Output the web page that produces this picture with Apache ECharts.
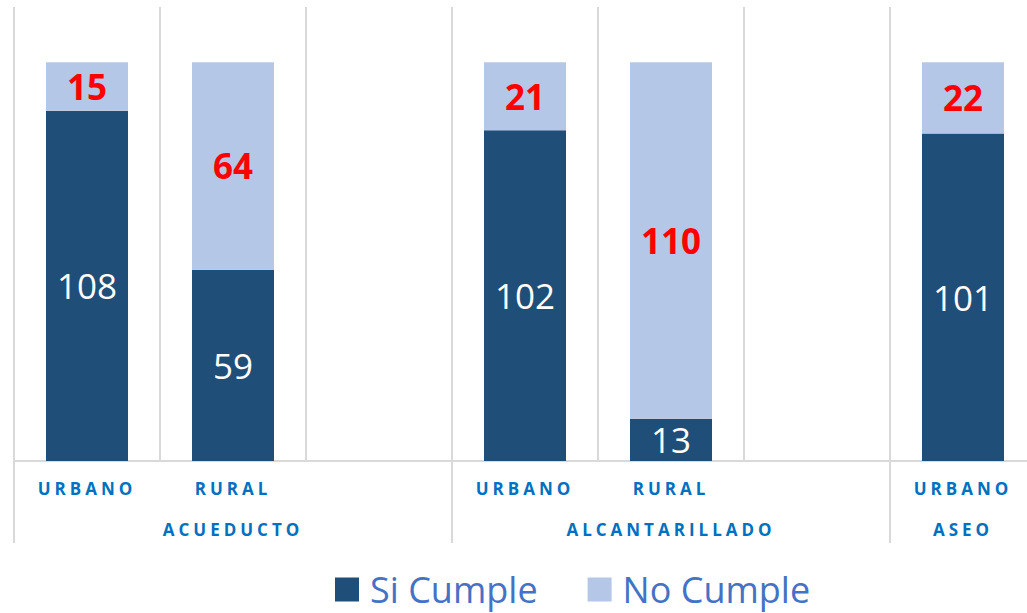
<!DOCTYPE html>
<html>
<head>
<meta charset="utf-8">
<script src="https://cdn.jsdelivr.net/npm/echarts@6/dist/echarts.min.js"></script>
<style>
  html, body { margin: 0; padding: 0; background: #ffffff; }
  #chart { width: 1027px; height: 613px; }
  #chart text[fill="#0070c0"], #chart text[fill="#0070C0"], #chart text[fill="rgb(0,112,192)"] { letter-spacing: 4px; }
</style>
</head>
<body>
<div id="chart"></div>
<script>
const categories = ['URBANO', 'RURAL', '', 'URBANO', 'RURAL', '', 'URBANO'];
const groupLabels = ['', 'ACUEDUCTO', '', '', 'ALCANTARILLADO', '', 'ASEO'];
const groupStarts = [0, 3, 6];
const siCumple = [108, 59, null, 102, 13, null, 101];
const noCumple = [15, 64, null, 21, 110, null, 22];
const seriesNames = ['Si Cumple', 'No Cumple'];

const chart = echarts.init(document.getElementById('chart'), null, { renderer: 'svg' });
const gridColor = '#D9D9D9';
const labelColor = '#0070C0';
const font = 'Open Sans';

chart.setOption({
  animation: false,
  backgroundColor: '#ffffff',
  grid: { left: 14, width: 1022, top: 7, bottom: 152, outerBoundsMode: 'none', containLabel: false },
  legend: {
    left: 335,
    top: 571,
    padding: 0,
    itemWidth: 24,
    itemHeight: 24,
    itemGap: 50,
    icon: 'rect',
    data: seriesNames,
    textStyle: { fontFamily: font, fontSize: 36, lineHeight: 37, color: '#4472C4', padding: [0, 0, 0, 6] }
  },
  xAxis: [
    {
      type: 'category',
      data: categories,
      position: 'bottom',
      axisLine: { show: true, lineStyle: { color: gridColor, width: 2 } },
      axisTick: { show: false },
      splitLine: { show: true, interval: 0, lineStyle: { color: gridColor, width: 2 } },
      axisLabel: {
        interval: 0,
        margin: 19,
        fontFamily: font,
        fontWeight: 'bold',
        fontSize: 17,
        color: labelColor
      }
    },
    {
      type: 'category',
      data: groupLabels,
      position: 'bottom',
      gridIndex: 0,
      axisLine: { show: false },
      axisTick: {
        show: true,
        length: 82,
        interval: function (idx) { return groupStarts.indexOf(idx) >= 0; },
        lineStyle: { color: gridColor, width: 2 }
      },
      splitLine: { show: false },
      axisLabel: {
        interval: 0,
        margin: 60,
        fontFamily: font,
        fontWeight: 'bold',
        fontSize: 17,
        color: labelColor
      }
    }
  ],
  yAxis: { type: 'value', min: 0, max: 140, show: false, splitLine: { show: false } },
  series: [
    {
      name: seriesNames[0],
      type: 'bar',
      stack: 'total',
      barWidth: 82,
      data: siCumple,
      itemStyle: { color: '#1F4E79' },
      label: {
        show: true,
        position: 'inside',
        color: '#ffffff',
        fontFamily: font,
        fontSize: 35
      }
    },
    {
      name: seriesNames[1],
      type: 'bar',
      stack: 'total',
      barWidth: 82,
      data: noCumple,
      itemStyle: { color: '#B4C7E7' },
      label: {
        show: true,
        position: 'inside',
        color: '#FF0000',
        fontFamily: font,
        fontWeight: 'bold',
        fontSize: 35
      }
    }
  ]
});
</script>
</body>
</html>
